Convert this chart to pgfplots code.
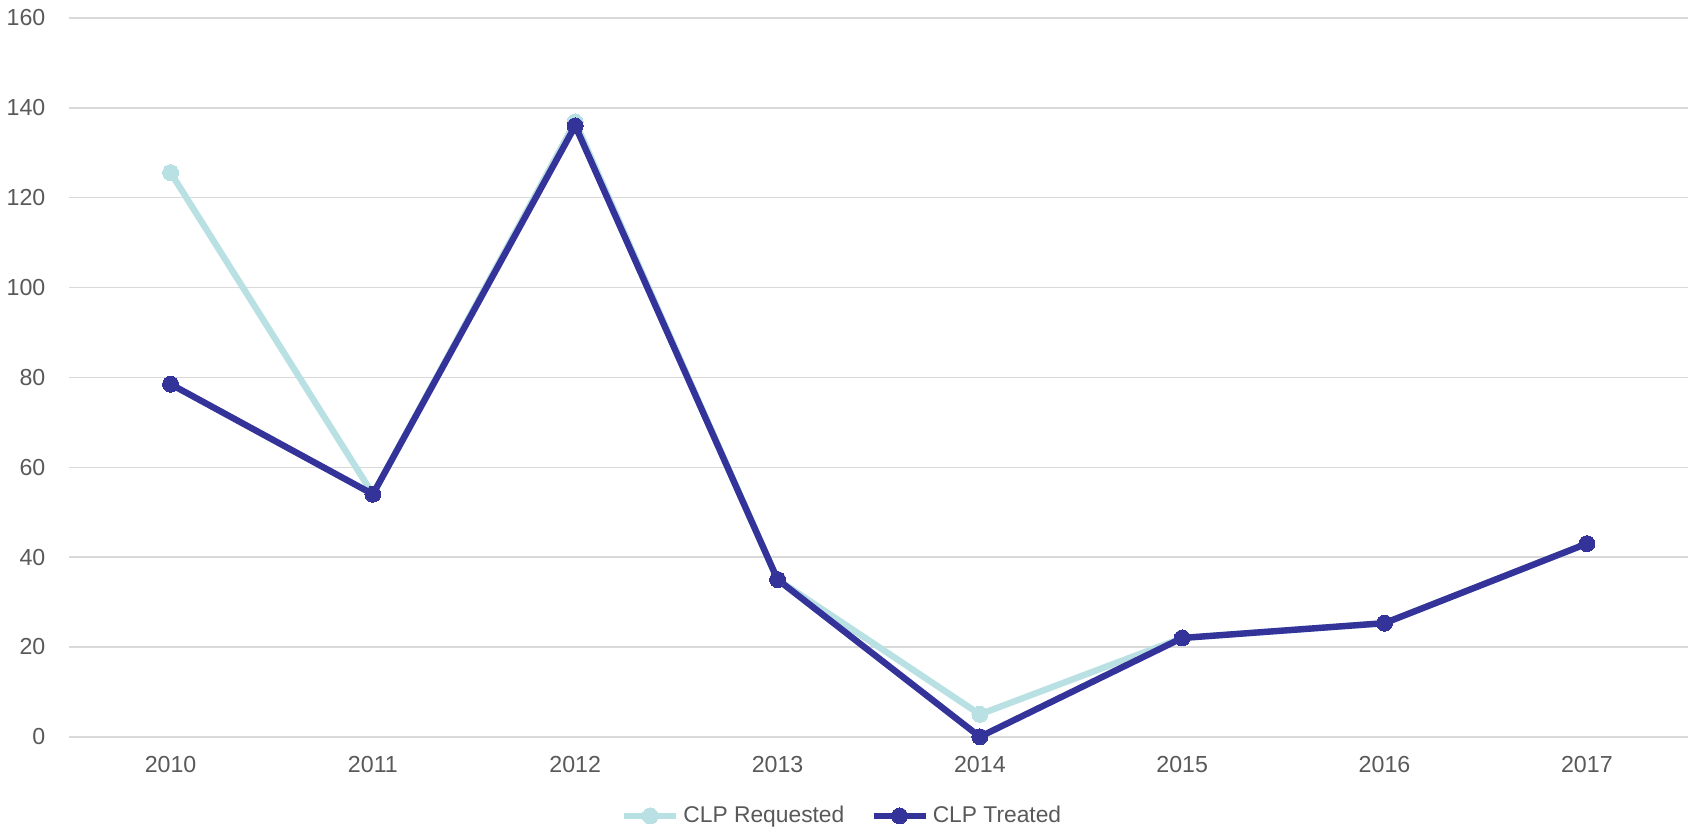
\documentclass[border=0pt]{standalone}
\usepackage{fontspec}
\setmainfont{Liberation Sans}
\usepackage{pgfplots}
\pgfplotsset{compat=1.18}
\definecolor{reqcol}{HTML}{B9E0E3}
\definecolor{trtcol}{HTML}{333399}
\definecolor{gridcol}{HTML}{D9D9D9}
\definecolor{txtcol}{HTML}{595959}
\begin{document}
\begin{tikzpicture}
\begin{axis}[
  at={(0,0)}, anchor=south west,
  scale only axis,
  width=809.5pt, height=359.5pt,
  xmin=-0.5, xmax=7.5,
  ymin=0, ymax=160,
  ytick={0,20,...,160},
  xtick={0,...,7},
  xticklabels={2010,2011,2012,2013,2014,2015,2016,2017},
  axis line style={draw=none},
  major tick length=0pt,
  ymajorgrids,
  grid style={gridcol, line width=0.75pt},
  tick label style={font=\fontsize{11.6}{14}\selectfont, text=txtcol},
  yticklabel style={xshift=-8.5pt},
  xticklabel style={yshift=-6pt},
  /pgf/number format/assume math mode=true,
  legend columns=2,
  legend style={at={(0.478,-0.11)}, anchor=center, draw=none,
    font=\fontsize{11.4}{14}\selectfont, text=txtcol,
    /tikz/every even column/.append style={column sep=11pt}},
  legend cell align=left,
  legend image code/.code={\draw[mark repeat=2,mark phase=2] plot coordinates {(0pt,0pt) (13pt,0pt) (26pt,0pt)};},
]
\addplot[reqcol, line width=3.2pt, mark=*, mark size=4pt, mark options={fill=reqcol, draw=reqcol, line width=0pt}]
  coordinates {(0,125.6) (1,54) (2,136.9) (3,35) (4,5) (5,22) (6,25.3) (7,43)};
\addlegendentry{CLP Requested}
\addplot[trtcol, line width=3.2pt, mark=*, mark size=4pt, mark options={fill=trtcol, draw=trtcol, line width=0pt}]
  coordinates {(0,78.5) (1,54) (2,136) (3,35) (4,0) (5,22) (6,25.3) (7,43)};
\addlegendentry{CLP Treated}
\end{axis}
\path (-34.5pt,-47pt) rectangle (812.5pt,368.5pt);
\end{tikzpicture}
\end{document}
